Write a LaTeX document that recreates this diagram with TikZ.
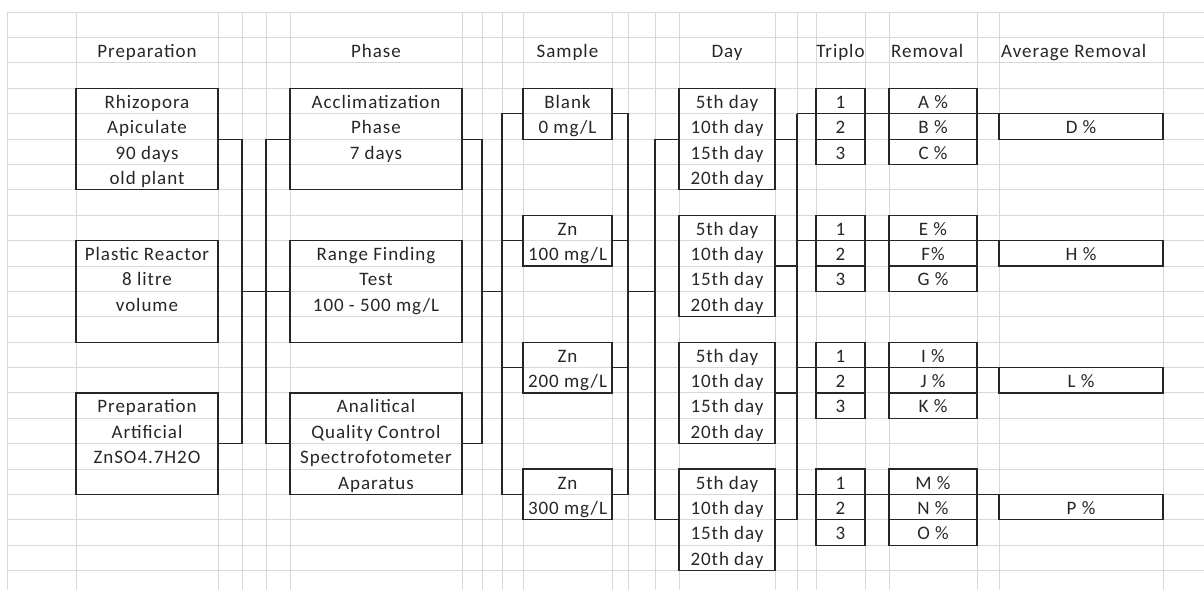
\documentclass[tikz,border=0pt]{standalone}
\usepackage{fontspec}
\setmainfont{Carlito}[LetterSpace=5]
\definecolor{gridgray}{RGB}{216,216,216}
\definecolor{ink}{RGB}{38,38,38}
\tikzset{
  box/.style={draw=ink, line width=1.2pt, inner sep=0pt, outer sep=0pt,
    minimum height=#1*25.38pt},
  wire/.style={draw=ink, line width=1.2pt},
  txt/.style={inner sep=0pt, text height=15pt, text depth=0.4pt,
    font=\fontsize{19}{22}\selectfont, text=ink}
}
\begin{document}
\begin{tikzpicture}[x=1pt, y=-25.38pt]
  \useasboundingbox (0,-0.4807) rectangle (1204,22.766);
  % sheet grid
  \foreach \gx in {7,76,218,242,266,290,462,482,502,523,612,628,655,679,775,797,816,865,889,977,999,1163}
    \draw[gridgray, line width=1pt] (\gx,0) -- (\gx,22.766);
  \foreach \gy in {0,...,22}
    \draw[gridgray, line width=1pt] (7,\gy) -- (1204,\gy);

  % column heads
  \node[txt] (h-prep) at (147,1.5) {Preparation};
  \node[txt] (h-phase) at (376,1.5) {Phase};
  \node[txt] (h-sample) at (567.5,1.5) {Sample};
  \node[txt] (h-day) at (727,1.5) {Day};
  \node[txt] (h-triplo) at (840.5,1.5) {Triplo};
  \node[txt, anchor=west] (h-rem) at (891,1.5) {Removal};
  \node[txt, anchor=west] (h-avg) at (1001,1.5) {Average Removal};

  % preparation
  \node[box=4, minimum width=142pt] (rhiz) at (147,5) {};
  \node[box=4, minimum width=142pt] (reactor) at (147,11) {};
  \node[box=4, minimum width=142pt] (artif) at (147,17) {};
  \foreach \t [count=\r from 3] in {Rhizopora, Apiculate, 90 days, old plant}
    \node[txt] (rhiz-\r) at (147,\r+0.5) {\t};
  \foreach \t [count=\r from 9] in {Plastic Reactor, 8 litre, volume}
    \node[txt] (reactor-\r) at (147,\r+0.5) {\t};
  \foreach \t [count=\r from 15] in {Preparation, Artificial, ZnSO4.7H2O}
    \node[txt] (artif-\r) at (147,\r+0.5) {\t};

  % phase
  \node[box=4, minimum width=172pt] (accl) at (376,5) {};
  \node[box=4, minimum width=172pt] (range) at (376,11) {};
  \node[box=4, minimum width=172pt] (qc) at (376,17) {};
  \foreach \t [count=\r from 3] in {Acclimatization, Phase, 7 days}
    \node[txt] (accl-\r) at (376,\r+0.5) {\t};
  \foreach \t [count=\r from 9] in {Range Finding, Test, 100 - 500 mg/L}
    \node[txt] (range-\r) at (376,\r+0.5) {\t};
  \foreach \t [count=\r from 15] in {Analitical, Quality Control, Spectrofotometer, Aparatus}
    \node[txt] (qc-\r) at (376,\r+0.5) {\t};

  % sample
  \foreach \n/\s/\a/\mg in {blank/3/Blank/0, zn1/8/Zn/100, zn2/13/Zn/200, zn3/18/Zn/300}{
    \node[box=2, minimum width=89pt] (\n) at (567.5,\s+1) {};
    \node[txt] (\n-a) at (567.5,\s+0.5) {\a};
    \node[txt] (\n-b) at (567.5,\s+1.5) {\mg\ mg/L};
  }

  % day
  \foreach \n/\s in {day1/3, day2/8, day3/13, day4/18}{
    \node[box=4, minimum width=96pt] (\n) at (727,\s+2) {};
    \foreach \d [count=\k from 0] in {5th day, 10th day, 15th day, 20th day}
      \node[txt] (\n-\k) at (727,\s+\k+0.5) {\d};
  }

  % triplo, removal, average
  \foreach \g/\s/\ra/\rb/\rc/\av in {1/3/A \%/B \%/C \%/D \%, 2/8/E \%/F\%/G \%/H \%,
                                      3/13/I \%/J \%/K \%/L \%, 4/18/M \%/N \%/O \%/P \%}{
    \node[box=1, minimum width=49pt, txt] (tr\g-1) at (840.5,\s+0.5) {1};
    \node[box=1, minimum width=49pt, txt] (tr\g-2) at (840.5,\s+1.5) {2};
    \node[box=1, minimum width=49pt, txt] (tr\g-3) at (840.5,\s+2.5) {3};
    \node[box=1, minimum width=88pt, txt] (rm\g-1) at (933,\s+0.5) {\ra};
    \node[box=1, minimum width=88pt, txt] (rm\g-2) at (933,\s+1.5) {\rb};
    \node[box=1, minimum width=88pt, txt] (rm\g-3) at (933,\s+2.5) {\rc};
    \node[box=1, minimum width=164pt, txt] (avg\g) at (1081,\s+1.5) {\av};
  }

  % brackets between the columns
  \coordinate (jA) at (242,11);
  \coordinate (jB) at (266,11);
  \coordinate (jC) at (482,11);
  \coordinate (jD) at (502,11);
  \coordinate (jE) at (628,11);
  \coordinate (jF) at (655,11);
  \coordinate (jG) at (797,4);
  \draw[wire] (rhiz.east) -| (jA) |- (artif.east);
  \draw[wire] (jA) -- (range.west);
  \draw[wire] (accl.west) -| (jB) |- (qc.west);
  \draw[wire] (accl.east) -| (jC) |- (qc.east);
  \draw[wire] (jC) -- (jD);
  \draw[wire] (blank.west) -| (jD) |- (zn3.west);
  \draw[wire] (blank.east) -| (jE) |- (zn3.east);
  \foreach \n in {zn1,zn2}{
    \draw[wire] (\n.west) -- (\n.west -| jD);
    \draw[wire] (\n.east) -- (\n.east -| jE);
  }
  \draw[wire] (jE) -- (jF);
  \draw[wire] (day1.west) -| (jF) |- (day4.west);
  \draw[wire] (jG) |- (day4.east);
  \foreach \n in {day1,day2,day3}
    \draw[wire] (\n.east) -- (\n.east -| jG);
  \foreach \g in {1,...,4}
    \draw[wire] (tr\g-1.south -| jG) -- (avg\g.north west);
\end{tikzpicture}
\end{document}
